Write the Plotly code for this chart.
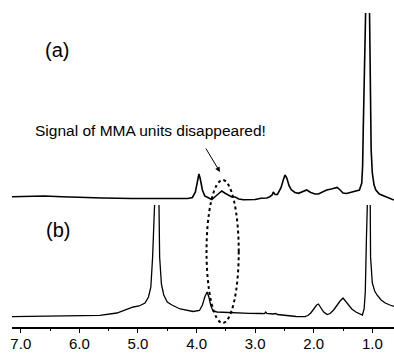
import plotly.graph_objects as go

# Spectrum (a): chemical shift (ppm) and intensity (arb. units, baseline ~0)
ppm_a = [7.15, 6.9, 6.6, 6.3, 6.0, 5.6, 5.1, 4.7, 4.3, 4.15, 4.07, 4.02, 3.98, 3.96, 3.94, 3.90, 3.86,
         3.80, 3.74, 3.68, 3.62, 3.57, 3.52, 3.46, 3.40, 3.34, 3.28, 3.2, 3.0, 2.9, 2.8, 2.75, 2.71,
         2.69, 2.66, 2.62, 2.56, 2.52, 2.49, 2.46, 2.42, 2.38, 2.32, 2.26, 2.18, 2.12, 2.05, 1.98,
         1.92, 1.85, 1.78, 1.70, 1.64, 1.60, 1.55, 1.50, 1.44, 1.36, 1.28, 1.22, 1.18, 1.165, 1.155,
         1.14, 1.115, 1.065, 1.05, 1.035, 1.02, 1.00, 0.97, 0.94, 0.88, 0.80, 0.72, 0.63]
int_a = [3.3, 3.5, 4, 3.3, 2.5, 2, 1.5, 1.2, 1, 1.5, 2.5, 8, 20, 26, 22, 10, 4,
         2, 0.5, 3.5, 6, 9, 7, 5, 3, 3, 1, 0.2, 0.5, 1.7, 2, 3.3, 5,
         8, 5.5, 5.5, 12, 20, 25, 22, 14, 10, 7.5, 6.7, 8.5, 10, 7.5, 6,
         6, 8, 10, 11, 12, 12.5, 10, 7, 6.5, 7.5, 8.5, 10, 17, 35, 70,
         180, 330, 330, 200, 90, 50, 27, 15, 10, 6, 4, 2, 0]

# Spectrum (b)
ppm_b = [7.15, 6.8, 6.4, 6.0, 5.65, 5.36, 5.2, 5.08, 4.98, 4.88, 4.82, 4.78, 4.75, 4.73, 4.66,
         4.63, 4.60, 4.56, 4.50, 4.42, 4.28, 4.06, 3.95, 3.90, 3.86, 3.82, 3.79, 3.76, 3.72, 3.65,
         3.5, 3.3, 3.1, 2.9, 2.84, 2.82, 2.80, 2.7, 2.65, 2.62, 2.5, 2.3, 2.15, 2.10, 2.05, 2.00,
         1.95, 1.92, 1.88, 1.83, 1.77, 1.72, 1.66, 1.60, 1.55, 1.50, 1.46, 1.40, 1.35, 1.28, 1.22,
         1.17, 1.14, 1.12, 1.10, 1.085, 1.045, 1.03, 1.00, 0.96, 0.92, 0.85, 0.78, 0.70, 0.63]
int_b = [0.3, 0.5, 1, 1.3, 1.6, 4, 7, 10, 11, 14, 20, 30, 60, 200, 200,
         60, 33, 22, 15, 12, 8, 5.5, 6.5, 12, 20, 25, 20, 12, 6, 5,
         4.5, 4, 3.7, 3.5, 3.3, 5, 3.5, 3, 3.5, 2.5, 1.5, 0.5, 0.3, 1.5, 4, 8,
         12, 13, 9, 5, 2.5, 3.5, 7, 12, 16, 19, 16, 11, 8, 5, 3,
         2, 8, 25, 80, 200, 200, 60, 34, 26, 22, 17, 14, 12, 10.5]

major_ticks = [7.0, 6.0, 5.0, 4.0, 3.0, 2.0, 1.0]
tick_labels = ["7.0", "6.0", "5.0", "4.0", "3.0", "2.0", "1.0"]

fig = go.Figure()
fig.add_trace(go.Scatter(x=ppm_a, y=int_a, mode="lines", line=dict(color="black", width=1.6),
                         yaxis="y", showlegend=False, hoverinfo="skip"))
fig.add_trace(go.Scatter(x=ppm_b, y=int_b, mode="lines", line=dict(color="black", width=1.3),
                         yaxis="y2", showlegend=False, hoverinfo="skip"))

H = 327.0
W = 382.0
fig.update_layout(
    width=394, height=356,
    margin=dict(l=12, r=0, t=0, b=29),
    paper_bgcolor="white", plot_bgcolor="white",
    font=dict(family="Arial, Liberation Sans, sans-serif", color="black"),
    xaxis=dict(range=[7.15, 0.63], tickmode="array", tickvals=major_ticks, ticktext=tick_labels,
               ticks="outside", ticklen=4, tickwidth=1, tickcolor="black", ticklabelstandoff=-2,
               showline=True, linewidth=2, linecolor="black", showgrid=False, zeroline=False,
               tickfont=dict(size=15, color="black"),
               minor=dict(ticks="outside", dtick=0.5, tick0=0.5, ticklen=2, tickcolor="black", showgrid=False)),
    yaxis=dict(domain=[0, 314 / H], range=[-127, 187], visible=False),
    yaxis2=dict(domain=[0, 122 / H], range=[-10, 112], visible=False, anchor="x"),
    shapes=[dict(type="circle", xref="x", yref="paper", x0=3.83, x1=3.28,
                 y0=(H - 323) / H, y1=(H - 180) / H,
                 line=dict(color="black", width=2, dash="dot"))],
    annotations=[
        dict(text="(a)", xref="paper", yref="paper", x=(57 - 12) / W, y=(H - 50) / H,
             xanchor="center", yanchor="middle", showarrow=False, font=dict(size=20)),
        dict(text="(b)", xref="paper", yref="paper", x=(58 - 12) / W, y=(H - 230) / H,
             xanchor="center", yanchor="middle", showarrow=False, font=dict(size=20)),
        dict(text="Signal of MMA units disappeared!", xref="paper", yref="paper",
             x=(150 - 12) / W, y=(H - 130) / H, xanchor="center", yanchor="middle",
             showarrow=False, font=dict(size=15.5)),
        dict(text="", xref="x", yref="paper", x=3.60, y=(H - 172) / H, showarrow=True,
             ax=-15, ay=-25, arrowhead=2, arrowsize=1, arrowwidth=1, arrowcolor="black"),
    ],
)

fig.write_html("out.html", config={"displayModeBar": False},
               post_script="document.body.style.margin='0';document.body.style.padding='0';")
